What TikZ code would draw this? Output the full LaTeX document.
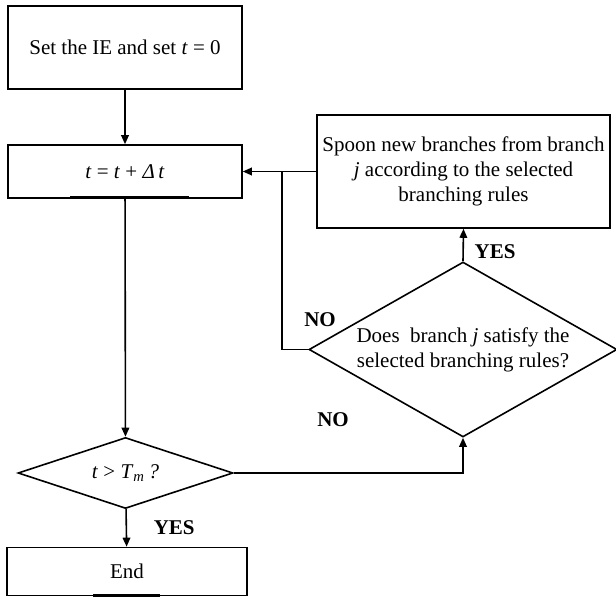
\documentclass[tikz,border=0pt]{standalone}
\usepackage{fontspec}
\setmainfont{Liberation Serif}
\usetikzlibrary{arrows.meta,shapes.geometric}

\begin{document}
\begin{tikzpicture}[
  x=0.5pt, y=-0.5pt,
  every node/.style={font=\fontsize{10.5}{12.5}\selectfont, align=center},
  box/.style={rectangle, draw, line width=0.8pt, inner sep=2pt},
  test/.style={diamond, draw, line width=0.8pt, inner sep=1pt},
  tag/.style={font=\fontsize{10.5}{12.5}\selectfont\bfseries},
  edge/.style={-{Triangle[length=4.5pt,width=3.8pt]}, line width=0.8pt},
  link/.style={line width=0.8pt}
]
\useasboundingbox (0,0) rectangle (616,597);

% ---------- main column ----------
\node[box, minimum width=117pt, minimum height=41.5pt] (init) at (125,47.5)
  {Set the IE and set \textit{t} = 0};
\node[box, minimum width=117pt, minimum height=26.5pt] (step) at (125,171.5)
  {\textit{t} = \textit{t} + \textit{Δ\,t}};
\node[test, aspect=3.03, minimum width=107.5pt, minimum height=35.5pt] (tcheck) at (125.5,473)
  {\textit{t} > \textit{T}\textsubscript{\textit{m}}\,\textit{?}};
\node[box, minimum width=120pt, minimum height=24pt] (stop) at (127,571.5) {End};

% thick marks under the boxes
\draw[line width=1.6pt] (70,197.5) -- (189,197.5);
\draw[line width=1.6pt] (93,595.5) -- (160,595.5);

\draw[edge] (init) -- (step);
\draw[edge] (step) -- (tcheck);
\draw[edge] (tcheck) -- (stop) node[tag, pos=0.5, right=10pt] {YES};

% ---------- branching loop ----------
\node[test, aspect=1.76, minimum width=154pt, minimum height=87.5pt] (rulecheck) at (463,349.5)
  {Does~ branch \textit{j} satisfy the\\selected branching rules?};
\node[box, minimum width=146.5pt, minimum height=56.5pt] (spoon) at (463.5,171.5)
  {Spoon new branches from branch\\\textit{j} according to the selected\\branching rules};
\coordinate (join) at (282,171.5);

\draw[edge] (tcheck.east) -| (rulecheck.south);
\node[tag] at (333,420) {NO};
\draw[edge] (rulecheck.north) -- (spoon.south) node[tag, pos=0.3, right=2pt] {YES};
\draw[link] (rulecheck.west) -| (join);
\node[tag] at (320,320) {NO};
\draw[edge] (spoon.west) -- (step.east);

\end{tikzpicture}
\end{document}
